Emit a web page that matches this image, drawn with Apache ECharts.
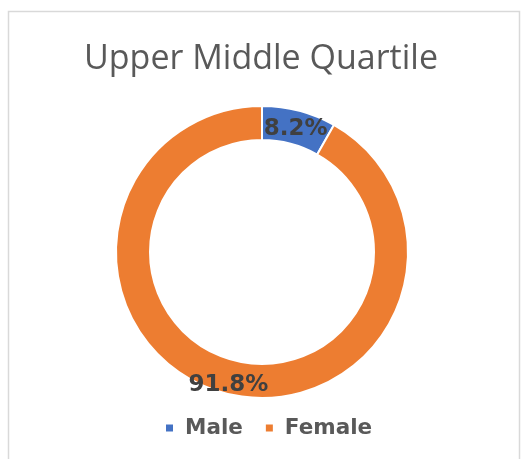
<!DOCTYPE html>
<html>
<head>
<meta charset="utf-8">
<script src="https://cdn.jsdelivr.net/npm/echarts@6/dist/echarts.min.js"></script>
<style>
  html, body { margin: 0; padding: 0; background: #fff; }
  #chart { width: 522px; height: 459px; }
</style>
</head>
<body>
<div id="chart"></div>
<script>
const categories = ['Male', 'Female']
const values = [8.2, 91.8]
const colors = ['#4472c4', '#ed7d31']

const chart = echarts.init(document.getElementById('chart'))

const labelFont = {
    fontFamily: 'DejaVu Sans',
    fontSize: 23,
    fontWeight: 'bold',
    color: '#404040'
}

chart.setOption({
    animation: false,
    color: colors,
    title: {
        text: 'Upper Middle Quartile',
        left: 'center',
        top: 37,
        textStyle: {
            fontFamily: 'Open Sans',
            fontSize: 34,
            fontWeight: 'normal',
            color: '#595959'
        }
    },
    graphic: [{
        type: 'rect',
        shape: { x: 8.5, y: 11.5, width: 511, height: 460 },
        style: { fill: 'none', stroke: '#d9d9d9', lineWidth: 1.5 },
        silent: true
    }],
    legend: {
        data: categories,
        bottom: 15,
        left: 159,
        icon: 'rect',
        itemWidth: 9,
        itemHeight: 9,
        itemGap: 21,
        textStyle: {
            fontFamily: 'DejaVu Sans',
            fontSize: 21.5,
            fontWeight: 'bold',
            color: '#595959',
            padding: [0, 0, 0, 6]
        }
    },
    series: [{
        type: 'pie',
        center: [262, 252],
        radius: [112, 146],
        startAngle: 90,
        clockwise: true,
        itemStyle: { borderColor: '#fff', borderWidth: 2 },
        label: {
            show: true,
            position: 'inside',
            formatter: p => '{v|' + p.value.toFixed(1) + '%}',
            rich: {
                v: Object.assign({ padding: [10, 0, 0, 0] }, labelFont)
            }
        },
        labelLine: { show: false },
        data: categories.map((name, i) => ({ name, value: values[i] }))
    }]
})
</script>
</body>
</html>
